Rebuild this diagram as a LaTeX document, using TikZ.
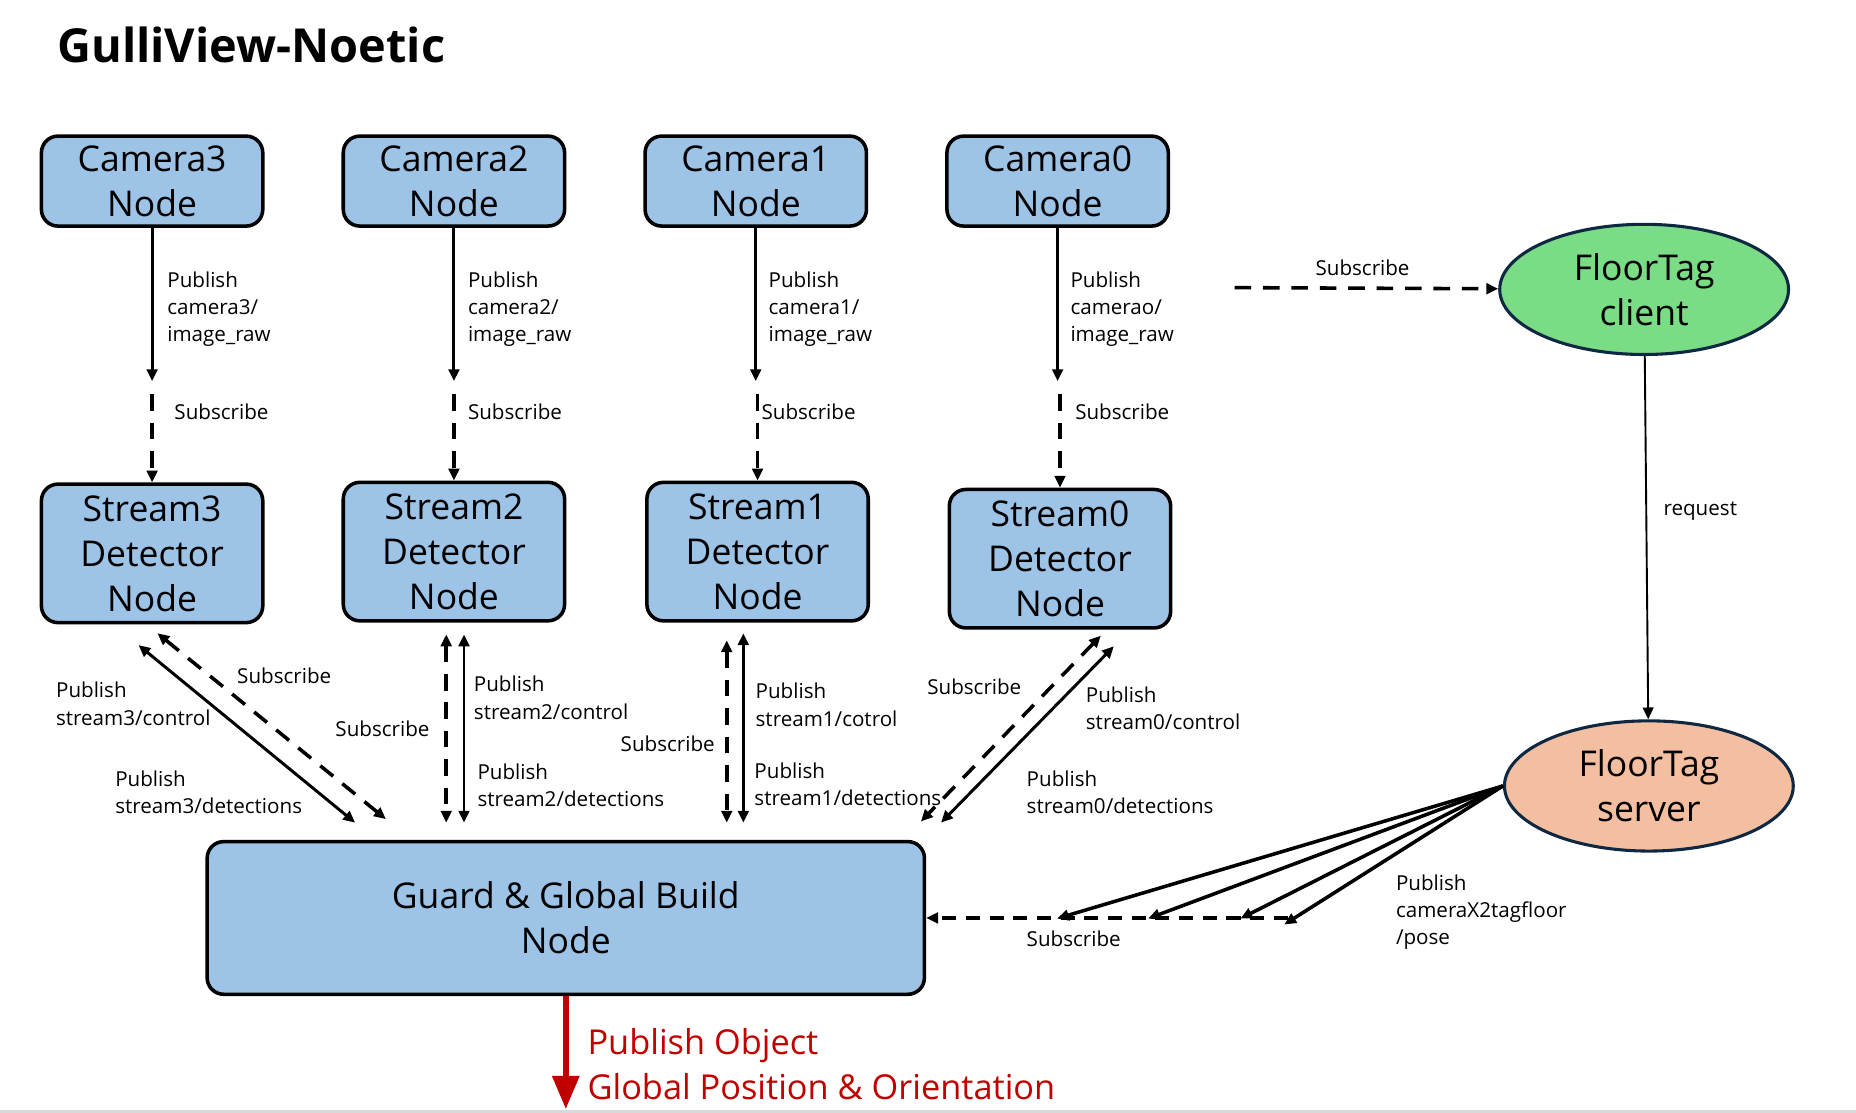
\documentclass[tikz,border=0pt]{standalone}
\usepackage{fontspec}
\setmainfont{Open Sans}
\usetikzlibrary{arrows.meta,shapes.geometric}

\definecolor{boxblue}{HTML}{9DC3E6}
\definecolor{tagclient}{HTML}{7BDC86}
\definecolor{tagserver}{HTML}{F4BFA0}
\definecolor{rim}{HTML}{0E2841}
\definecolor{outred}{HTML}{C00000}

\tikzset{
	rosnode/.style={draw=black, line width=1.5pt, fill=boxblue, rounded corners=7pt, align=center, inner sep=0pt, minimum width=93.5pt, font=\fontsize{15}{19}\selectfont},
	tagnode/.style={ellipse, draw=rim, line width=1.3pt, align=center, inner sep=0pt, minimum width=122pt, minimum height=55pt, font=\fontsize{15}{19}\selectfont},
	lbl/.style={anchor=west, align=left, inner sep=0pt, font=\fontsize{8.7}{11.5}\selectfont},
	title/.style={anchor=base west, inner sep=0pt, font=\bfseries\fontsize{19.8}{23}\selectfont},
	pub/.style={line width=1.25pt},
	sub/.style={line width=1.5pt, dash pattern=on 7pt off 5pt},
}

\begin{document}
\begin{tikzpicture}[x=0.5pt, y=-0.5pt, >={Triangle[length=5pt,width=4.5pt]}]
	\useasboundingbox (0,0) rectangle (1568,940);
	\fill[white] (0,0) rectangle (1568,940);
	\node[title] (T) at (48,53) {GulliView-Noetic};

	% cameras
	\node[rosnode, minimum height=38pt] (C3) at (128.5,153) {Camera3\\Node};
	\node[rosnode, minimum height=38pt] (C2) at (383.5,153) {Camera2\\Node};
	\node[rosnode, minimum height=38pt] (C1) at (638.5,153) {Camera1\\Node};
	\node[rosnode, minimum height=38pt] (C0) at (893.5,153) {Camera0\\Node};

	% detectors
	\node[rosnode, minimum height=58.5pt] (S3) at (128.5,467.5) {Stream3\\Detector\\Node};
	\node[rosnode, minimum height=58.5pt] (S2) at (383.5,466) {Stream2\\Detector\\Node};
	\node[rosnode, minimum height=58.5pt] (S1) at (640,466) {Stream1\\Detector\\Node};
	\node[rosnode, minimum height=58.5pt] (S0) at (895.5,472) {Stream0\\Detector\\Node};

	\node[rosnode, minimum width=303pt, minimum height=64.5pt] (G) at (478,775.5) {Guard \& Global Build\\Node};
	\node[tagnode, fill=tagclient] (FC) at (1389,244.5) {FloorTag\\client};
	\node[tagnode, fill=tagserver] (FS) at (1393,664) {FloorTag\\server};

	% camera -> detector
	\coordinate (c3) at (128.5,322);
	\coordinate (c2) at (383.5,322);
	\coordinate (c1) at (638.5,322);
	\coordinate (c0) at (893.5,322);
	\coordinate (s3) at (128.5,333);
	\coordinate (s2) at (383.5,333);
	\coordinate (s1) at (640,333);
	\coordinate (s0) at (895.5,333);
	\draw[pub, ->] (C3) -- (c3);
	\draw[pub, ->] (C2) -- (c2);
	\draw[pub, ->] (C1) -- (c1);
	\draw[pub, ->] (C0) -- (c0);
	\draw[sub, ->] (s3) -- (S3);
	\draw[sub, ->] (s2) -- (S2);
	\draw[sub, ->] (s1) -- (S1);
	\draw[sub, ->] (s0) -- (S0);
	\node[lbl] (lc3) at (141,261) {Publish\\camera3/\\image\_raw};
	\node[lbl] (lc2) at (395,261) {Publish\\camera2/\\image\_raw};
	\node[lbl] (lc1) at (649,261) {Publish\\camera1/\\image\_raw};
	\node[lbl] (lc0) at (904,261) {Publish\\camerao/\\image\_raw};
	\node[lbl] (ls3) at (147,348) {Subscribe};
	\node[lbl] (ls2) at (395,348) {Subscribe};
	\node[lbl] (ls1) at (643,348) {Subscribe};
	\node[lbl] (ls0) at (908,348) {Subscribe};

	% detector <-> guard
	\coordinate (p3a) at (117,545);
	\coordinate (p3b) at (300,695);
	\coordinate (q3a) at (133,535);
	\coordinate (q3b) at (326,692);
	\coordinate (p2a) at (392,536);
	\coordinate (p2b) at (392,695);
	\coordinate (q2a) at (377,536);
	\coordinate (q2b) at (377,695);
	\coordinate (p1a) at (628,535);
	\coordinate (p1b) at (628,695);
	\coordinate (q1a) at (614,541);
	\coordinate (q1b) at (614,695);
	\coordinate (p0a) at (941,546);
	\coordinate (p0b) at (795,695);
	\coordinate (q0a) at (930,537);
	\coordinate (q0b) at (778,694);
	\draw[pub, <->] (p3a) -- (p3b);
	\draw[sub, <->] (q3a) -- (q3b);
	\draw[pub, <->] (p2a) -- (p2b);
	\draw[sub, <->] (q2a) -- (q2b);
	\draw[pub, <->] (p1a) -- (p1b);
	\draw[sub, <->] (q1a) -- (q1b);
	\draw[pub, <->] (p0a) -- (p0b);
	\draw[sub, <->] (q0a) -- (q0b);
	\node[lbl] (l3c) at (47,594.5) {Publish\\stream3/control};
	\node[lbl] (l3s) at (200,571) {Subscribe};
	\node[lbl] (l3d) at (97,669.5) {Publish\\stream3/detections};
	\node[lbl] (l2s) at (283,616) {Subscribe};
	\node[lbl] (l2c) at (400,589.5) {Publish\\stream2/control};
	\node[lbl] (l2d) at (403,663.5) {Publish\\stream2/detections};
	\node[lbl] (l1c) at (638,595.5) {Publish\\stream1/cotrol};
	\node[lbl] (l1s) at (524,628) {Subscribe};
	\node[lbl] (l1d) at (637,662.5) {Publish\\stream1/detections};
	\node[lbl] (l0s) at (783,580) {Subscribe};
	\node[lbl] (l0c) at (917,598.5) {Publish\\stream0/control};
	\node[lbl] (l0d) at (867,669.5) {Publish\\stream0/detections};

	% floortag
	\coordinate (fin) at (1043,243);
	\draw[sub, ->] (fin) -- (FC);
	\node[lbl] (lfs) at (1111,226) {Subscribe};
	\draw[line width=0.8pt, ->] (FC) -- (FS);
	\node[lbl] (lrq) at (1405,432) {request};
	\coordinate (f1) at (893,776);
	\coordinate (f2) at (970,776);
	\coordinate (f3) at (1048,776);
	\coordinate (f4) at (1085,781);
	\draw[pub, line width=1.5pt, ->] (FS.west) -- (f1);
	\draw[pub, line width=1.5pt, ->] (FS.west) -- (f2);
	\draw[pub, line width=1.5pt, ->] (FS.west) -- (f3);
	\draw[pub, line width=1.5pt, ->] (FS.west) -- (f4);
	\coordinate (d0) at (1088,775.5);
	\draw[sub, line width=2pt, dash pattern=on 6pt off 4pt, ->] (d0) -- (G);
	\node[lbl] (lgs) at (867,793) {Subscribe};
	\node[lbl] (lpo) at (1179,770.5) {Publish\\cameraX2tagfloor\\/pose};

	% output
	\coordinate (o1) at (478,937);
	\draw[outred, line width=2.5pt, -{Triangle[length=14pt,width=11pt]}] (G) -- (o1);
	\node[lbl, text=outred, font=\fontsize{14.5}{19}\selectfont] (lout) at (496,899) {Publish Object\\Global Position \& Orientation};
	\draw[black!15, line width=1pt] (0,939) -- (1568,939);
\end{tikzpicture}
\end{document}
